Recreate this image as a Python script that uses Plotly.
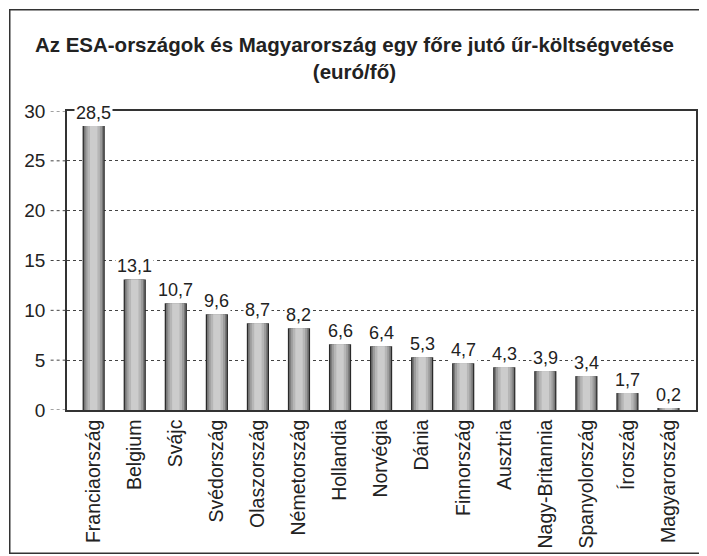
import plotly.graph_objects as go

countries = ["Franciaország", "Belgium", "Svájc", "Svédország", "Olaszország",
             "Németország", "Hollandia", "Norvégia", "Dánia", "Finnország",
             "Ausztria", "Nagy-Britannia", "Spanyolország", "Írország", "Magyarország"]
values = [28.5, 13.1, 10.7, 9.6, 8.7, 8.2, 6.6, 6.4, 5.3, 4.7, 4.3, 3.9, 3.4, 1.7, 0.2]
y_ticks = [0, 5, 10, 15, 20, 25, 30]

FONT = "Liberation Sans Narrow, Arial Narrow, Liberation Sans, Arial"
INK = "#222222"

# page has an 8px body margin, so the figure is laid out 8px up/left
L, R, T, B = 59, 19, 103, 154
PW, PH = 707 - L - R, 556 - T - B

fig = go.Figure()

# layered bars to fake the cylinder shading of the print
layers = [(0.54, "#2a2a2a"), (0.48, "#777777"), (0.40, "#9c9c9c"),
          (0.30, "#b6b6b6"), (0.18, "#cccccc")]
for w, c in layers:
    fig.add_trace(go.Bar(
        x=countries, y=values, width=w,
        marker=dict(color=c, line=dict(width=0)),
        hoverinfo="skip", showlegend=False
    ))

# value labels with white background so gridlines break around them
for name, v in zip(countries, values):
    fig.add_annotation(
        x=name, y=v, text=f"{v:.1f}".replace(".", ","),
        showarrow=False, yanchor="bottom", yshift=1,
        bgcolor="white", borderpad=1,
        font=dict(family=FONT, size=18, color=INK)
    )

# dotted tick leaders left of the axis
for t in y_ticks:
    fig.add_shape(type="line", xref="paper", yref="y",
                  x0=-0.026, x1=0, y0=t, y1=t,
                  line=dict(color="#444", width=1, dash="dot"))

# outer frame around the whole figure
fig.add_annotation(
    xref="paper", yref="paper", x=-(L - 1) / PW, y=1 + (T - 1) / PH,
    xanchor="left", yanchor="top", text="", showarrow=False,
    width=694, height=542, bordercolor="#333", borderwidth=1.5, borderpad=0
)

fig.update_layout(
    width=707, height=556,
    margin=dict(l=L, r=R, t=T, b=B, autoexpand=False),
    barmode="overlay",
    paper_bgcolor="white", plot_bgcolor="white",
    title=dict(
        text="<b>Az ESA-országok és Magyarország egy főre jutó űr-költségvetése<br>(euró/fő)</b>",
        x=0.49, xanchor="center", y=0.921, yanchor="middle",
        font=dict(family=FONT, size=20.5, color=INK)
    ),
    font=dict(family=FONT, color=INK),
)

fig.update_xaxes(
    range=[-0.65, len(countries) - 0.33],
    tickangle=-90, tickfont=dict(family=FONT, size=19.5, color=INK),
    showline=True, linecolor="#333", linewidth=1.5, mirror=True,
    ticks="", showgrid=False, automargin=False
)
fig.update_yaxes(
    range=[0, 30], tickvals=y_ticks,
    tickfont=dict(family=FONT, size=19, color=INK),
    showline=True, linecolor="#333", linewidth=1.5, mirror=True,
    showgrid=True, gridcolor="#444", griddash="dot", gridwidth=1,
    ticks="", ticklabelstandoff=16, zeroline=False, automargin=False
)

fig.write_html("out.html")
